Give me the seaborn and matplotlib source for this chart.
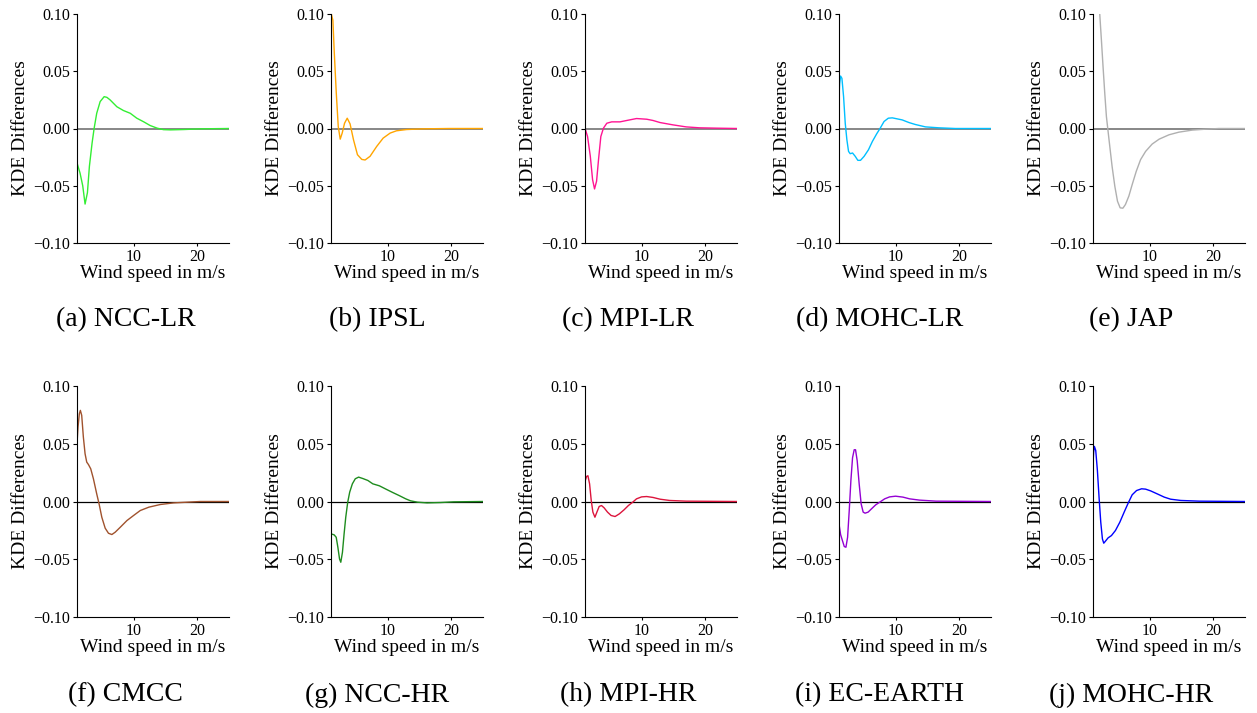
import matplotlib
matplotlib.use("Agg")
import matplotlib.pyplot as plt
import seaborn as sns
import pandas as pd

# ---------------- data ----------------
models = ["NCC-LR", "IPSL", "MPI-LR", "MOHC-LR", "JAP",
          "CMCC", "NCC-HR", "MPI-HR", "EC-EARTH", "MOHC-HR"]
panel_letters = ["a", "b", "c", "d", "e", "f", "g", "h", "i", "j"]
colors = ["#33ee33", "#ffa500", "#ff1493", "#00bfff", "#b0b0b0",
          "#a0522d", "#1e8c1e", "#dc143c", "#9400d3", "#0000ff"]

ncc_lr_x = [1.1, 1.58, 2.0, 2.37, 2.74, 3.05, 3.47, 3.79, 4.2, 4.74, 5.37, 5.8, 6.3, 7.37, 8.4, 9.47,
            10.5, 11.6, 12.6, 13.7, 14.7, 15.8, 17.9, 20.5, 25.0]
ncc_lr_y = [-0.030, -0.039, -0.050, -0.066, -0.056, -0.033, -0.0128, 0.0, 0.0133, 0.0235, 0.0278, 0.0272,
            0.025, 0.019, 0.0157, 0.0133, 0.009, 0.0058, 0.0026, 0.0003, -0.001, -0.0012, -0.0009, -0.0003, 0.0]

ipsl_x = [1.15, 1.4, 1.6, 1.93, 2.24, 2.55, 2.86, 3.23, 3.65, 4.1, 4.64, 5.26, 5.94, 6.46, 7.24, 8.28,
          9.3, 10.4, 11.4, 13.0, 15.6, 19.7, 25.0]
ipsl_y = [0.100, 0.0945, 0.068, 0.031, 0.0017, -0.0093, -0.004, 0.0046, 0.009, 0.004, -0.0099, -0.0229,
          -0.027, -0.0275, -0.0243, -0.0157, -0.0084, -0.004, -0.002, -0.0009, -0.0003, 0.0, 0.0]

mpi_lr_x = [1.15, 1.5, 1.93, 2.29, 2.6, 2.92, 3.23, 3.59, 4.0, 4.53, 5.3, 6.6, 7.66, 9.2, 10.8, 11.8,
            12.9, 14.9, 17.0, 19.1, 21.7, 25.0]
mpi_lr_y = [-0.0006, -0.007, -0.024, -0.0446, -0.0528, -0.046, -0.027, -0.007, 0.0003, 0.0046, 0.0058,
            0.0058, 0.007, 0.0087, 0.0081, 0.007, 0.0052, 0.0032, 0.0014, 0.0006, 0.0003, 0.0]

mohc_lr_x = [1.1, 1.2, 1.35, 1.56, 1.82, 2.08, 2.34, 2.6, 2.86, 3.23, 3.65, 4.06, 4.48, 5.05, 5.73, 6.35,
             7.03, 7.55, 8.18, 8.85, 9.48, 10.26, 11.04, 12.1, 13.1, 14.7, 16.8, 19.4, 25.0]
mohc_lr_y = [0.0278, 0.039, 0.0458, 0.0438, 0.0278, 0.0046, -0.0099, -0.020, -0.022, -0.0214, -0.0243,
             -0.0278, -0.0278, -0.0243, -0.0186, -0.0113, -0.0046, 0.0, 0.0061, 0.009, 0.0093, 0.0084,
             0.0075, 0.0052, 0.0035, 0.0014, 0.0006, 0.0, 0.0]

jap_x = [2.16, 2.42, 2.68, 2.95, 3.21, 3.42, 3.74, 4.1, 4.53, 4.95, 5.37, 5.8, 6.2, 6.74, 7.26, 7.9,
         8.58, 9.37, 10.4, 11.5, 13.05, 14.6, 16.7, 18.8, 20.9, 25.0]
jap_y = [0.100, 0.0774, 0.054, 0.0307, 0.0104, 0.0, -0.0157, -0.033, -0.0504, -0.0635, -0.0693, -0.0696,
         -0.0664, -0.059, -0.049, -0.0374, -0.0272, -0.020, -0.0136, -0.0093, -0.0055, -0.0032, -0.0014,
         -0.0006, 0.0, 0.0]

cmcc_x = [1.1, 1.26, 1.47, 1.63, 1.84, 2.1, 2.37, 2.63, 2.9, 3.26, 3.68, 4.2, 4.57, 5.0, 5.53, 6.05,
          6.58, 7.1, 7.9, 8.95, 10.0, 11.05, 12.4, 14.2, 16.3, 18.4, 20.5, 25.0]
cmcc_y = [0.050, 0.0645, 0.076, 0.0789, 0.0746, 0.0558, 0.0413, 0.0341, 0.032, 0.0283, 0.0197, 0.0066,
          -0.002, -0.0136, -0.0231, -0.0275, -0.0286, -0.0266, -0.0223, -0.0165, -0.0121, -0.0078,
          -0.0049, -0.0026, -0.0012, -0.0006, 0.0, 0.0]

ncc_hr_x = [1.1, 1.6, 1.92, 2.18, 2.44, 2.64, 2.9, 3.16, 3.42, 3.73, 4.04, 4.46, 4.92, 5.44, 6.1, 6.9,
            7.67, 8.7, 9.74, 10.8, 11.8, 12.85, 13.6, 14.7, 16.2, 18.3, 20.4, 25.0]
ncc_hr_y = [-0.028, -0.0289, -0.031, -0.0396, -0.0497, -0.0526, -0.044, -0.028, -0.0136, -0.0006, 0.0081,
            0.0153, 0.0197, 0.0211, 0.0199, 0.0182, 0.0153, 0.0136, 0.0107, 0.0078, 0.0052, 0.0023,
            0.0006, -0.0006, -0.0012, -0.0009, -0.0003, 0.0]

mpi_hr_x = [1.15, 1.35, 1.56, 1.82, 2.08, 2.34, 2.66, 2.97, 3.33, 3.7, 4.11, 4.64, 5.2, 5.83, 6.5, 7.24,
            7.92, 8.6, 9.2, 10.0, 10.8, 11.8, 12.9, 14.4, 17.0, 25.0]
mpi_hr_y = [0.0182, 0.0217, 0.0223, 0.0153, 0.0009, -0.0092, -0.0136, -0.0092, -0.0043, -0.0035, -0.0055,
            -0.0092, -0.0121, -0.013, -0.0107, -0.0072, -0.0035, -0.0006, 0.0023, 0.004, 0.0043, 0.0035,
            0.002, 0.0009, 0.0003, 0.0]

ec_earth_x = [1.1, 1.35, 1.67, 1.93, 2.19, 2.45, 2.71, 2.97, 3.23, 3.49, 3.7, 3.96, 4.27, 4.58, 4.9, 5.2,
              5.68, 6.2, 6.87, 7.5, 8.28, 9.06, 10.0, 11.15, 12.2, 13.75, 16.35, 25.0]
ec_earth_y = [-0.0194, -0.0286, -0.0344, -0.039, -0.0396, -0.031, -0.0078, 0.0182, 0.0379, 0.0448, 0.0448,
              0.0353, 0.0153, -0.002, -0.0092, -0.0101, -0.0092, -0.0064, -0.0029, -0.0006, 0.0023, 0.004,
              0.0046, 0.0038, 0.0023, 0.0012, 0.0003, 0.0]

mohc_hr_x = [1.1, 1.2, 1.32, 1.53, 1.79, 2.05, 2.32, 2.58, 2.79, 3.05, 3.47, 4.0, 4.63, 5.32, 6.0, 6.63,
             7.26, 7.95, 8.74, 9.37, 10.16, 11.2, 12.3, 13.3, 14.9, 17.8, 25.0]
mohc_hr_y = [0.0327, 0.0428, 0.0477, 0.0442, 0.0269, 0.0038, -0.0179, -0.0324, -0.0361, -0.0344, -0.0315,
             -0.0295, -0.0251, -0.0179, -0.0092, -0.0014, 0.0058, 0.0095, 0.011, 0.0107, 0.0092, 0.0066,
             0.0038, 0.002, 0.0009, 0.0003, 0.0]

series_x = [ncc_lr_x, ipsl_x, mpi_lr_x, mohc_lr_x, jap_x, cmcc_x, ncc_hr_x, mpi_hr_x, ec_earth_x, mohc_hr_x]
series_y = [ncc_lr_y, ipsl_y, mpi_lr_y, mohc_lr_y, jap_y, cmcc_y, ncc_hr_y, mpi_hr_y, ec_earth_y, mohc_hr_y]

y_ticks = [-0.10, -0.05, 0.00, 0.05, 0.10]
x_ticks = [10, 20]

# ---------------- styling ----------------
sns.set_style("ticks")
plt.rcParams["font.family"] = ["Liberation Serif", "DejaVu Serif"]
plt.rcParams["text.color"] = "black"
plt.rcParams["axes.labelcolor"] = "black"
plt.rcParams["xtick.color"] = "black"
plt.rcParams["ytick.color"] = "black"

W, H = 1257, 713
fig = plt.figure(figsize=(W / 100, H / 100), dpi=100)

ax_w = 152
rows = [(14, 243), (386, 617)]
sub_y = [320, 695]
col_w = W / 5

for i, (name, letter, col, xs, ys) in enumerate(zip(models, panel_letters, colors, series_x, series_y)):
    r, c = divmod(i, 5)
    left = 77 + 254 * c
    top, bottom = rows[r]
    ax = fig.add_axes([left / W, 1 - bottom / H, ax_w / W, (bottom - top) / H])
    df = pd.DataFrame({"x": xs, "y": ys})
    ax.axhline(0, color="0.45" if r == 0 else "black", lw=1.2 if r == 0 else 0.9, zorder=1)
    sns.lineplot(data=df, x="x", y="y", ax=ax, color=col, lw=1.0, sort=False, zorder=2)
    ax.set_xlim(1.1, 25)
    ax.set_ylim(-0.10, 0.10)
    ax.set_yticks(y_ticks)
    ax.set_yticklabels([f"{v:.2f}".replace("-", "\u2212") for v in y_ticks])
    ax.set_xticks(x_ticks)
    ax.tick_params(axis="both", labelsize=11.5, length=3, width=0.8, pad=2, colors="black")
    ax.tick_params(axis="x", length=2)
    ax.set_xlabel("Wind speed in m/s", fontsize=14, labelpad=0, color="black")
    ax.set_ylabel("KDE Differences", fontsize=14, labelpad=3, color="black")
    for s in ["left", "bottom"]:
        ax.spines[s].set_color("black")
        ax.spines[s].set_linewidth(0.8)
    sns.despine(ax=ax)
    fig.text((col_w * (c + 0.5)) / W, 1 - sub_y[r] / H, f"({letter}) {name}",
             ha="center", va="center", fontsize=20, color="black")

fig.savefig("out.png", dpi=100)
